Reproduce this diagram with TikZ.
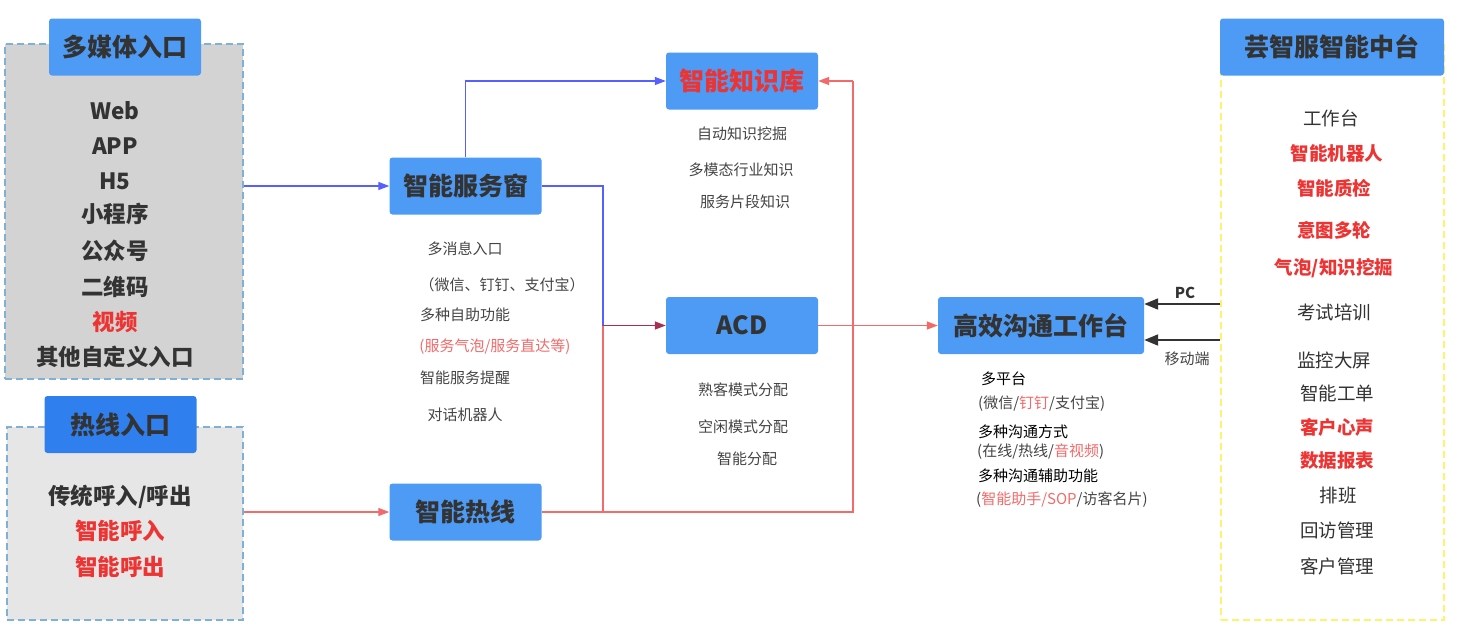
\documentclass[tikz,border=0pt]{standalone}
\usepackage{fontspec}
\setmainfont{Noto Sans CJK SC}
\usetikzlibrary{arrows.meta}
\definecolor{boxblue}{HTML}{4D9BF5}
\definecolor{boxblue2}{HTML}{2F7FEE}
\definecolor{txt}{HTML}{333333}
\definecolor{gtxt}{HTML}{444444}
\definecolor{redt}{HTML}{EE3333}
\definecolor{lnblue}{HTML}{5560FF}
\definecolor{lnred}{HTML}{F26A6A}
\definecolor{lnmix}{HTML}{A63050}
\definecolor{pborder}{HTML}{7FB0D6}
\definecolor{pfillA}{HTML}{D3D3D3}
\definecolor{pfillB}{HTML}{E6E6E6}
\definecolor{yborder}{HTML}{FFF36B}
\begin{document}
\begin{tikzpicture}[x=1pt,y=-1pt,
  hbox/.style={fill=boxblue, rounded corners=3pt, minimum width=152pt, minimum height=57pt, inner sep=0pt, text=txt, font=\fontsize{25}{25}\selectfont\bfseries},
  panel/.style={dashed, dash pattern=on 7pt off 4pt, line width=1.2pt, inner sep=0pt},
  bigt/.style={font=\fontsize{22.5}{22.5}\selectfont\bfseries, text=txt, inner sep=0pt},
  midt/.style={font=\fontsize{18.5}{18.5}\selectfont, text=txt, inner sep=0pt},
  midr/.style={font=\fontsize{18.5}{18.5}\selectfont\bfseries, text=redt, inner sep=0pt},
  smt/.style={font=\fontsize{15}{15}\selectfont, text=gtxt, inner sep=0pt},
  smh/.style={font=\fontsize{15}{15}\selectfont, text=black, inner sep=0pt, anchor=west},
  redc/.style={text=redt},
  conn/.style={line width=1.3pt, -{Triangle[length=11pt,width=8pt]}},
  plain/.style={line width=1.3pt},
  darkarrow/.style={line width=2pt, draw=txt, -{Triangle[length=14pt,width=11pt]}}
]
\useasboundingbox (0,0) rectangle (1464,630);

% ---- panel 1: multimedia entry
\node[panel, draw=pborder, fill=pfillA, minimum width=238pt, minimum height=335pt] (p1) at (124,211.5) {};
\node[hbox] (t1) at (125,47) {多媒体入口};
\node[bigt] (a1) at (115,111) {Web};
\node[bigt] (a2) at (115,146) {APP};
\node[bigt] (a3) at (115,181) {H5};
\node[bigt] (a4) at (115,214) {小程序};
\node[bigt] (a5) at (115,251) {公众号};
\node[bigt] (a6) at (115,287) {二维码};
\node[bigt, redc] (a7) at (115,322) {视频};
\node[bigt] (a8) at (115,357) {其他自定义入口};

% ---- panel 2: hotline entry
\node[panel, draw=pborder, fill=pfillB, minimum width=236pt, minimum height=193pt] (p2) at (125,523.5) {};
\node[hbox, fill=boxblue2] (t2) at (120.5,424.5) {热线入口};
\node[bigt] (b1) at (120,497) {传统呼入/呼出};
\node[bigt, redc] (b2) at (120,531) {智能呼入};
\node[bigt, redc] (b3) at (120,567) {智能呼出};

% ---- panel 3: platform
\node[panel, draw=yborder, fill=white, minimum width=223pt, minimum height=575pt] (p3) at (1332.5,332.5) {};
\node[hbox, minimum width=224pt] (t3) at (1332,47) {芸智服智能中台};
\node[midt] (c1) at (1331,118) {工作台};
\node[midr] (c2) at (1337,153) {智能机器人};
\node[midr] (c3) at (1334,188) {智能质检};
\node[midr] (c4) at (1334,230) {意图多轮};
\node[midr] (c5) at (1334,268) {气泡/知识挖掘};
\node[midt] (c6) at (1334,312) {考试培训};
\node[midt] (c7) at (1334,360) {监控大屏};
\node[midt] (c8) at (1337,393) {智能工单};
\node[midr] (c9) at (1337,427) {客户心声};
\node[midr] (c10) at (1337,461) {数据报表};
\node[midt] (c11) at (1338,495) {排班};
\node[midt] (c12) at (1337,530) {回访管理};
\node[midt] (c13) at (1337,566) {客户管理};

% ---- central boxes
\node[hbox] (sfw) at (465.5,186) {智能服务窗};
\node[hbox] (hl) at (465.5,512) {智能热线};
\node[hbox, text=redt] (kb) at (742,81) {智能知识库};
\node[hbox] (acd) at (742,325.5) {ACD};
\node[hbox, minimum width=206pt] (wt) at (1041,325.5) {高效沟通工作台};

% ---- texts under boxes
\node[smt] (s1) at (465,249) {多消息入口};
\node[smt] (s2) at (502,285) {（微信、钉钉、支付宝）};
\node[smt] (s3) at (465,315) {多种自助功能};
\node[smt, text=lnred] (s4) at (495,347) {(服务气泡/服务直达等)};
\node[smt] (s5) at (465,378) {智能服务提醒};
\node[smt] (s6) at (465,415) {对话机器人};

\node[smt] (k1) at (742,134) {自动知识挖掘};
\node[smt] (k2) at (741,170) {多模态行业知识};
\node[smt] (k3) at (745,202) {服务片段知识};

\node[smt] (d1) at (743,390) {熟客模式分配};
\node[smt] (d2) at (743,427) {空闲模式分配};
\node[smt] (d3) at (747,459) {智能分配};

\node[smh] (w1) at (981,379) {多平台};
\node[smt, anchor=west] (w2) at (978,404) {(微信/\textcolor{lnred}{钉钉}/支付宝)};
\node[smh] (w3) at (978,432) {多种沟通方式};
\node[smt, anchor=west] (w4) at (977,452) {(在线/热线/\textcolor{lnred}{音视频})};
\node[smh] (w5) at (978,476) {多种沟通辅助功能};
\node[smt, anchor=west] (w6) at (976,500) {(\textcolor{lnred}{智能助手/SOP}/访客名片)};

\node[smt, font=\fontsize{15}{15}\selectfont\bfseries, text=txt] (pc) at (1185,293) {PC};
\node[smt] (mob) at (1187,359) {移动端};

% ---- junction coordinates
\coordinate (jm) at (603,325.5);
\coordinate (jr) at (853,81);

% ---- connectors
\draw[conn, lnblue] (p1.east |- sfw.west) -- (sfw.west);
\draw[conn, lnred] (p2.east |- hl.west) -- (hl.west);
\draw[conn, lnblue] (sfw.north) |- (kb.west);
\draw[plain, lnblue] (sfw.east) -| (jm);
\draw[plain, lnred] (hl.east) -| (jm);
\draw[conn, lnmix] (jm) -- (acd.west);
\draw[plain, lnred] (hl.east) -- (jr |- hl.east) -- (jr);
\draw[conn, lnred] (jr) -- (kb.east);
\draw[conn, lnred] (acd.east) -- (wt.west);
\draw[darkarrow] (p3.west |- 0,304) -- (wt.east |- 0,304);
\draw[darkarrow] (p3.west |- 0,340) -- (wt.east |- 0,340);
\end{tikzpicture}
\end{document}
